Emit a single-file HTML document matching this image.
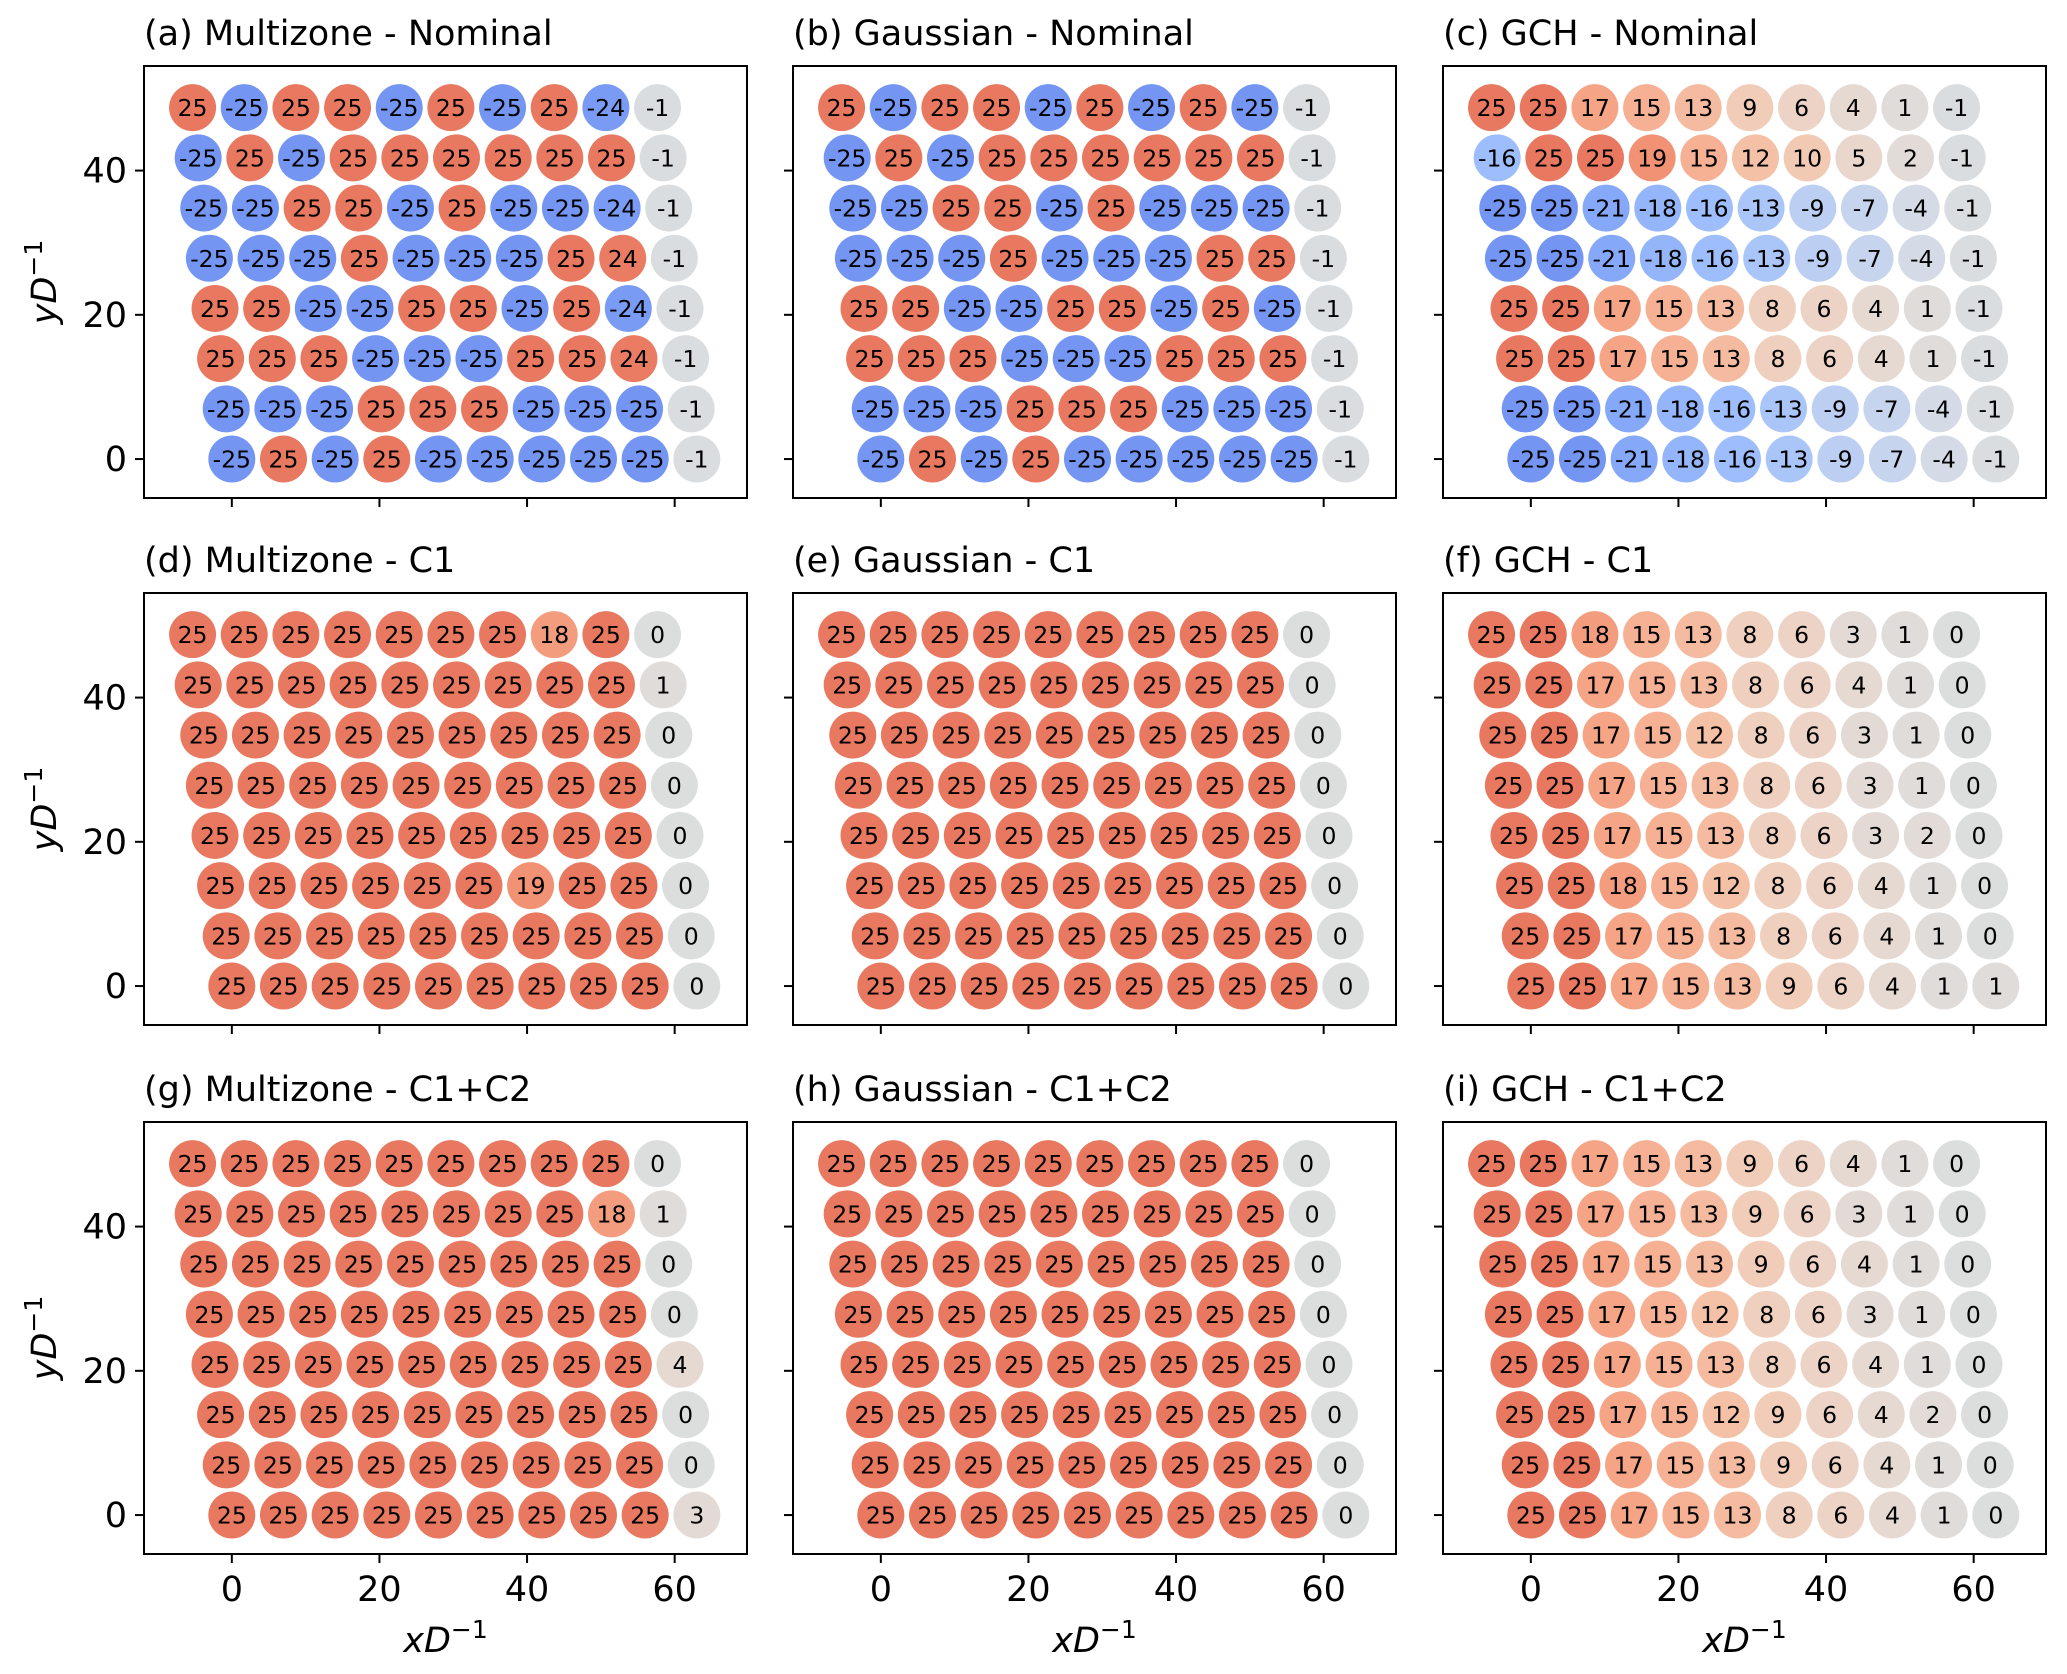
<!DOCTYPE html>
<html><head><meta charset="utf-8"><style>
html,body{margin:0;padding:0;background:#fff;}
svg{display:block;font-family:"DejaVu Sans","Liberation Sans",sans-serif;}
</style></head><body>
<svg id="fig" width="2067" height="1674" viewBox="0 0 2067 1674" xmlns="http://www.w3.org/2000/svg"></svg>
<script>
const panelTitles = ["(a) Multizone - Nominal","(b) Gaussian - Nominal","(c) GCH - Nominal","(d) Multizone - C1","(e) Gaussian - C1","(f) GCH - C1","(g) Multizone - C1+C2","(h) Gaussian - C1+C2","(i) GCH - C1+C2"];
const xTicks = [0,20,40,60];
const yTicks = [0,20,40];
// rows listed top (row 7) to bottom (row 0)
const dataA = [[25,-25,25,25,-25,25,-25,25,-24,-1],[-25,25,-25,25,25,25,25,25,25,-1],[-25,-25,25,25,-25,25,-25,-25,-24,-1],[-25,-25,-25,25,-25,-25,-25,25,24,-1],[25,25,-25,-25,25,25,-25,25,-24,-1],[25,25,25,-25,-25,-25,25,25,24,-1],[-25,-25,-25,25,25,25,-25,-25,-25,-1],[-25,25,-25,25,-25,-25,-25,-25,-25,-1]];
const dataB = [[25,-25,25,25,-25,25,-25,25,-25,-1],[-25,25,-25,25,25,25,25,25,25,-1],[-25,-25,25,25,-25,25,-25,-25,-25,-1],[-25,-25,-25,25,-25,-25,-25,25,25,-1],[25,25,-25,-25,25,25,-25,25,-25,-1],[25,25,25,-25,-25,-25,25,25,25,-1],[-25,-25,-25,25,25,25,-25,-25,-25,-1],[-25,25,-25,25,-25,-25,-25,-25,-25,-1]];
const dataC = [[25,25,17,15,13,9,6,4,1,-1],[-16,25,25,19,15,12,10,5,2,-1],[-25,-25,-21,-18,-16,-13,-9,-7,-4,-1],[-25,-25,-21,-18,-16,-13,-9,-7,-4,-1],[25,25,17,15,13,8,6,4,1,-1],[25,25,17,15,13,8,6,4,1,-1],[-25,-25,-21,-18,-16,-13,-9,-7,-4,-1],[-25,-25,-21,-18,-16,-13,-9,-7,-4,-1]];
const dataD = [[25,25,25,25,25,25,25,18,25,0],[25,25,25,25,25,25,25,25,25,1],[25,25,25,25,25,25,25,25,25,0],[25,25,25,25,25,25,25,25,25,0],[25,25,25,25,25,25,25,25,25,0],[25,25,25,25,25,25,19,25,25,0],[25,25,25,25,25,25,25,25,25,0],[25,25,25,25,25,25,25,25,25,0]];
const dataE = [[25,25,25,25,25,25,25,25,25,0],[25,25,25,25,25,25,25,25,25,0],[25,25,25,25,25,25,25,25,25,0],[25,25,25,25,25,25,25,25,25,0],[25,25,25,25,25,25,25,25,25,0],[25,25,25,25,25,25,25,25,25,0],[25,25,25,25,25,25,25,25,25,0],[25,25,25,25,25,25,25,25,25,0]];
const dataF = [[25,25,18,15,13,8,6,3,1,0],[25,25,17,15,13,8,6,4,1,0],[25,25,17,15,12,8,6,3,1,0],[25,25,17,15,13,8,6,3,1,0],[25,25,17,15,13,8,6,3,2,0],[25,25,18,15,12,8,6,4,1,0],[25,25,17,15,13,8,6,4,1,0],[25,25,17,15,13,9,6,4,1,1]];
const dataG = [[25,25,25,25,25,25,25,25,25,0],[25,25,25,25,25,25,25,25,18,1],[25,25,25,25,25,25,25,25,25,0],[25,25,25,25,25,25,25,25,25,0],[25,25,25,25,25,25,25,25,25,4],[25,25,25,25,25,25,25,25,25,0],[25,25,25,25,25,25,25,25,25,0],[25,25,25,25,25,25,25,25,25,3]];
const dataH = [[25,25,25,25,25,25,25,25,25,0],[25,25,25,25,25,25,25,25,25,0],[25,25,25,25,25,25,25,25,25,0],[25,25,25,25,25,25,25,25,25,0],[25,25,25,25,25,25,25,25,25,0],[25,25,25,25,25,25,25,25,25,0],[25,25,25,25,25,25,25,25,25,0],[25,25,25,25,25,25,25,25,25,0]];
const dataI = [[25,25,17,15,13,9,6,4,1,0],[25,25,17,15,13,9,6,3,1,0],[25,25,17,15,13,9,6,4,1,0],[25,25,17,15,12,8,6,3,1,0],[25,25,17,15,13,8,6,4,1,0],[25,25,17,15,12,9,6,4,2,0],[25,25,17,15,13,9,6,4,1,0],[25,25,17,15,13,8,6,4,1,0]];
const panelData = [dataA,dataB,dataC,dataD,dataE,dataF,dataG,dataH,dataI];

const NS="http://www.w3.org/2000/svg";
const svg=document.getElementById('fig');
function mk(tag,attrs,parent){const e=document.createElementNS(NS,tag);for(const k in attrs)e.setAttribute(k,attrs[k]);(parent||svg).appendChild(e);return e;}
const anchors=[[-25,[116,150,242]],[-21,[134,168,248]],[-16,[157,189,252]],[-13,[170,198,248]],[-9,[188,207,243]],[-4,[212,219,230]],[0,[220,221,221]],[1,[224,220,218]],[4,[230,217,210]],[6,[236,211,197]],[9,[241,205,185]],[13,[245,187,160]],[15,[246,176,148]],[17,[245,165,134]],[19,[242,146,117]],[25,[232,120,95]]];
function color(v){
  if(v<=anchors[0][0])return 'rgb('+anchors[0][1].join(',')+')';
  for(let i=1;i<anchors.length;i++){if(v<=anchors[i][0]){const a=anchors[i-1],b=anchors[i];const t=(v-a[0])/(b[0]-a[0]);return 'rgb('+a[1].map((c,k)=>Math.round(c+(b[1][k]-c)*t)).join(',')+')';}}
  return 'rgb('+anchors[anchors.length-1][1].join(',')+')';
}
const colL=[144,793,1443], rowT=[66,593,1122], W=603, H=432;
const XMIN=-11.9,XMAX=69.8,YMIN=-5.4,YMAX=54.5;
for(let p=0;p<9;p++){
  const c=p%3,r=Math.floor(p/3),L=colL[c],T=rowT[r];
  const sx=x=>L+(x-XMIN)/(XMAX-XMIN)*W;
  const sy=y=>T+(YMAX-y)/(YMAX-YMIN)*H;
  const g=mk('g',{});
  
  
  const title=mk('text',{x:L,y:T-21,'font-size':35},g);
  title.textContent=panelTitles[p];
  
  
  const data=panelData[p];
  for(let ri=0;ri<8;ri++){const j=7-ri;for(let i=0;i<10;i++){
    const v=data[ri][i];const x=7.0*i-0.76*j, y=6.96*j;
    const cx=sx(x),cy=sy(y);
    const circ=mk('circle',{cx:cx,cy:cy,r:23.5,fill:color(v)},g);
    
    
    const t=mk('text',{x:cx,y:cy+8.5,'font-size':23.5,'text-anchor':'middle',fill:'#000'},g);
    t.textContent=String(v);
    
    
  }}
  const frame=mk('rect',{x:L,y:T,width:W,height:H,fill:'none',stroke:'#000','stroke-width':2},g);
  
  
  for(const xt of xTicks){const X=sx(xt);mk('line',{x1:X,x2:X,y1:T+H,y2:T+H+9,stroke:'#000','stroke-width':2},g);
    if(r===2){const lb=mk('text',{x:X,y:T+H+47,'font-size':35,'text-anchor':'middle'},g);lb.textContent=xt;
      
      }}
  for(const yt of yTicks){const Y=sy(yt);mk('line',{x1:L-9,x2:L,y1:Y,y2:Y,stroke:'#000','stroke-width':2},g);
    if(c===0){const lb=mk('text',{x:L-17,y:Y+12,'font-size':35,'text-anchor':'end'},g);lb.textContent=yt;
      
      }}
  if(r===2){const xl=mk('text',{x:L+W/2,y:1652,'font-size':35,'text-anchor':'middle','font-style':'italic'},g);
    xl.innerHTML='xD<tspan dy="-14" font-size="25" font-style="normal">−1</tspan>';
    
    }
  if(c===0){const cy=T+H/2;const yl=mk('text',{x:0,y:0,'font-size':35,'text-anchor':'middle','font-style':'italic',transform:'translate(56,'+cy+') rotate(-90)'},g);
    yl.innerHTML='yD<tspan dy="-14" font-size="25" font-style="normal">−1</tspan>';
    
    }
}
</script>
</body></html>
